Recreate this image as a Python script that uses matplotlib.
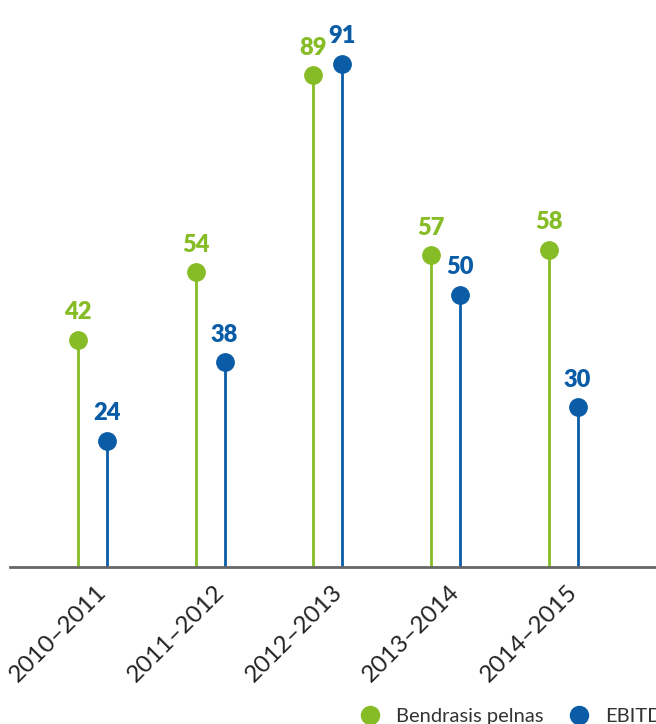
import numpy as np
import matplotlib.pyplot as plt
from matplotlib.lines import Line2D

plt.rcParams['font.family'] = ['Lato', 'DejaVu Sans']

periods = ['2010–2011', '2011–2012', '2012–2013', '2013–2014', '2014–2015']
gross_profit = [42, 54, 89, 57, 58]
ebitda = [24, 38, 91, 50, 30]
series_names = ['Bendrasis pelnas', 'EBITDA']

green = '#86bc25'
blue = '#0a5ca6'

fig = plt.figure(figsize=(6.56, 7.24), dpi=100)
ax = fig.add_axes([10 / 656, 157 / 724, 646 / 656, 553 / 724])

x = np.arange(len(periods))
off = 0.123

for xs, vals, col in [(x - off, gross_profit, green), (x + off, ebitda, blue)]:
    ax.vlines(xs, 1.6, vals, color=col, linewidth=2.0, zorder=2)
    ax.plot(xs, vals, 'o', color=col, markersize=12.5, zorder=3)
    for xi, v in zip(xs, vals):
        ax.annotate(str(v), (xi, v), xytext=(0, 12), textcoords='offset points',
                    ha='center', va='bottom', color=col, fontsize=17,
                    fontweight='heavy')

ax.set_xlim(-0.70, 4.79)
ax.set_ylim(1.6, 99.9)
for s in ['top', 'right', 'left']:
    ax.spines[s].set_visible(False)
ax.spines['bottom'].set_color('#666666')
ax.spines['bottom'].set_linewidth(2)
ax.set_yticks([])
ax.set_xticks(x + 0.03)
ax.set_xticklabels(periods, rotation=45, ha='right', va='top',
                   rotation_mode='anchor', fontsize=17.5, color='#222222')
ax.tick_params(axis='x', length=0, pad=10)

handles = [Line2D([], [], marker='o', linestyle='', color=green, markersize=13),
           Line2D([], [], marker='o', linestyle='', color=blue, markersize=13)]
fig.legend(handles, series_names, loc='center left',
           bbox_to_anchor=(332 / 656, 8 / 724), ncol=2, frameon=False,
           fontsize=14.5, handletextpad=0.3, columnspacing=0.75,
           labelcolor='#333333')

fig.savefig('out.png', dpi=100)
